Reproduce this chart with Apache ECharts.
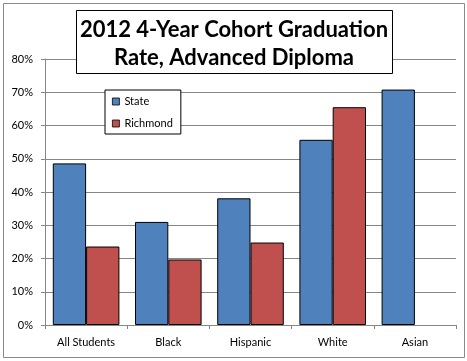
<!DOCTYPE html>
<html>
<head>
<meta charset="utf-8">
<script src="https://cdn.jsdelivr.net/npm/echarts@6/dist/echarts.min.js"></script>
<style>html,body{margin:0;padding:0;background:#fff;}#c{width:467px;height:361px;}</style>
</head>
<body>
<div id="c"></div>
<script>
var categories = ['All Students', 'Black', 'Hispanic', 'White', 'Asian'];
var stateValues = [48.6, 31.0, 38.1, 55.7, 70.8];
var richmondValues = [23.6, 19.7, 24.8, 65.5, null];
var seriesNames = ['State', 'Richmond'];
var titleLines = ['2012 4-Year Cohort Graduation', 'Rate, Advanced Diploma'];

var FONT = 'Lato, "Open Sans", sans-serif';
var chart = echarts.init(document.getElementById('c'), null, {renderer: 'canvas'});
chart.setOption({
  animation: false,
  backgroundColor: '#fff',
  textStyle: {fontFamily: FONT},
  grid: {left: 45, right: 11, top: 59, bottom: 36, containLabel: false},
  graphic: [
    {type: 'rect', shape: {x: 3.5, y: 3.5, width: 461, height: 354}, style: {fill: 'none', stroke: '#8a8a8a', lineWidth: 1}, z: 0, silent: true},
    {type: 'rect', shape: {x: 76.5, y: 10.5, width: 316, height: 63}, style: {fill: '#fff', stroke: '#000', lineWidth: 1}, z: 50, silent: true}
  ],
  title: {
    text: titleLines.join('\n'),
    left: 229, top: 11, textAlign: 'center',
    textStyle: {fontFamily: FONT, fontWeight: 'bold', fontSize: 22, color: '#000', lineHeight: 28},
    z: 60
  },
  legend: {
    data: seriesNames,
    orient: 'vertical',
    left: 105, top: 90,
    width: 78,
    backgroundColor: '#fff',
    borderColor: '#000', borderWidth: 1,
    padding: [6, 8, 5, 7],
    itemWidth: 7, itemHeight: 7, itemGap: 11,
    icon: 'rect',
    itemStyle: {borderColor: '#000', borderWidth: 0.8},
    textStyle: {fontFamily: FONT, fontSize: 11, color: '#000', padding: [0, 24, 0, 0]},
    z: 60
  },
  xAxis: {
    type: 'category',
    data: categories,
    axisLine: {lineStyle: {color: '#868686'}},
    axisTick: {show: true, length: 4, lineStyle: {color: '#868686'}},
    axisLabel: {color: '#000', fontSize: 11, margin: 12, fontFamily: FONT}
  },
  yAxis: {
    type: 'value',
    min: 0, max: 80, interval: 10,
    axisLine: {show: true, lineStyle: {color: '#868686'}},
    axisTick: {show: true, length: 4, lineStyle: {color: '#868686'}},
    splitLine: {lineStyle: {color: '#868686'}},
    axisLabel: {formatter: '{value}%', color: '#000', fontSize: 11, margin: 12, fontFamily: FONT}
  },
  series: [
    {name: seriesNames[0], type: 'bar', data: stateValues, barGap: '0%', barCategoryGap: '19%',
     itemStyle: {color: '#4F81BD', borderColor: '#000', borderWidth: 1}},
    {name: seriesNames[1], type: 'bar', data: richmondValues, barGap: '0%', barCategoryGap: '19%',
     itemStyle: {color: '#C0504D', borderColor: '#000', borderWidth: 1}}
  ]
});
</script>
</body>
</html>
